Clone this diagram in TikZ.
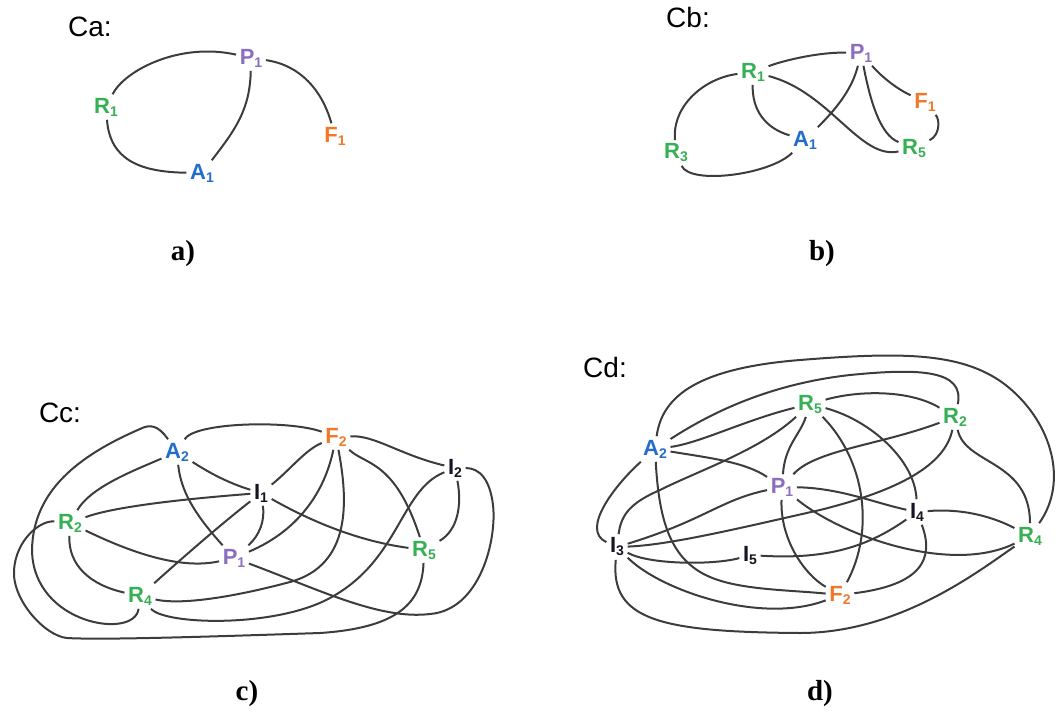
\documentclass[tikz,border=0pt]{standalone}
\usepackage{fontspec}
\setmainfont{Liberation Serif}
\newfontfamily\labsans{Liberation Sans}
\definecolor{linec}{RGB}{60,60,60}
\definecolor{rgreen}{RGB}{55,175,85}
\definecolor{ppurple}{RGB}{140,110,190}
\definecolor{ablue}{RGB}{35,110,200}
\definecolor{forange}{RGB}{240,120,40}
\definecolor{iblack}{RGB}{20,20,35}
\newcommand\nd[2]{#1\raisebox{-3pt}{\fontsize{14}{14}\selectfont #2}}
\tikzset{
  edge/.style={draw=linec, line width=2pt},
  lab/.style={font=\labsans\bfseries\fontsize{22}{22}\selectfont, inner sep=3.5pt},
  rn/.style={lab, text=rgreen},
  pn/.style={lab, text=ppurple},
  an/.style={lab, text=ablue},
  fn/.style={lab, text=forange},
  inn/.style={lab, text=iblack},
  title/.style={font=\labsans\fontsize{28}{28}\selectfont, inner sep=0pt},
  panelcap/.style={font=\bfseries\fontsize{29}{29}\selectfont, inner sep=0pt}
}
\begin{document}
\begin{tikzpicture}[x=1pt,y=-1pt]
\useasboundingbox (0,0) rectangle (1059,717);
% ---------------- panel a
\node[title] (ta) at (90,27) {Ca:};
\node[pn] (aP1) at (251,58) {\nd{P}{1}};
\node[rn] (aR1) at (106,107) {\nd{R}{1}};
\node[fn] (aF1) at (335,136) {\nd{F}{1}};
\node[an] (aA1) at (202,173) {\nd{A}{1}};
\draw[edge] (aR1) .. controls (125,70) and (180,42) .. (aP1);
\draw[edge] (aP1) .. controls (250,110) and (235,130) .. (aA1);
\draw[edge] (aP1) .. controls (300,65) and (322,90) .. (aF1);
\draw[edge] (aR1) .. controls (110,160) and (140,172) .. (aA1);
\node[panelcap] (la) at (183,254) {a)};
% ---------------- panel b
\node[title] (tb) at (688,17) {Cb:};
\node[pn] (bP1) at (861,53) {\nd{P}{1}};
\node[rn] (bR1) at (753,72) {\nd{R}{1}};
\node[fn] (bF1) at (925,102) {\nd{F}{1}};
\node[rn] (bR5) at (914,148) {\nd{R}{5}};
\node[an] (bA1) at (805,140) {\nd{A}{1}};
\node[rn] (bR3) at (676,153) {\nd{R}{3}};
\draw[edge] (bR1) .. controls (785,60) and (820,52) .. (bP1);
\draw[edge] (bR1) .. controls (705,78) and (672,105) .. (bR3);
\draw[edge] (bR3) .. controls (690,185) and (770,175) .. (bA1);
\draw[edge] (bR1) .. controls (752,110) and (765,128) .. (bA1);
\draw[edge] (bR1) .. controls (830,92) and (860,160) .. (bR5);
\draw[edge] (bP1) .. controls (852,90) and (835,110) .. (bA1);
\draw[edge] (bP1) .. controls (870,100) and (880,135) .. (bR5);
\draw[edge] (bP1) .. controls (880,75) and (895,88) .. (bF1);
\draw[edge] (bF1) .. controls (940,120) and (940,135) .. (bR5);
\node[panelcap] (lb) at (822,254) {b)};
% ---------------- panel c
\node[title] (tc) at (60,413) {Cc:};
\node[an] (cA2) at (177,452) {\nd{A}{2}};
\node[fn] (cF2) at (336,437) {\nd{F}{2}};
\node[inn] (cI2) at (455,468) {\nd{I}{2}};
\node[inn] (cI1) at (261,493) {\nd{I}{1}};
\node[rn] (cR2) at (70,523) {\nd{R}{2}};
\node[rn] (cR5) at (424,550) {\nd{R}{5}};
\node[pn] (cP1) at (234,558) {\nd{P}{1}};
\node[rn] (cR4) at (140,596) {\nd{R}{4}};
\draw[edge] (cA2) .. controls (158,425) and (150,424) .. (140,429) .. controls (80,455) and (33,490) .. (32,550) .. controls (33,625) and (135,640) .. (cR4);
\draw[edge] (cA2) .. controls (195,422) and (290,420) .. (cF2);
\draw[edge] (cA2) .. controls (130,472) and (90,488) .. (cR2);
\draw[edge] (cA2) .. controls (205,470) and (225,482) .. (cI1);
\draw[edge] (cA2) .. controls (181,495) and (200,520) .. (cP1);
\draw[edge] (cF2) .. controls (375,435) and (400,455) .. (cI2);
\draw[edge] (cF2) .. controls (305,450) and (290,470) .. (cI1);
\draw[edge] (cF2) .. controls (325,490) and (300,530) .. (cP1);
\draw[edge] (cF2) .. controls (348,500) and (352,565) .. (290,582) .. controls (230,598) and (180,605) .. (cR4);
\draw[edge] (cF2) .. controls (365,465) and (395,460) .. (cR5);
\draw[edge] (cI2) .. controls (400,490) and (400,560) .. (330,598) .. controls (275,628) and (165,625) .. (cR4);
\draw[edge] (cI2) .. controls (462,505) and (458,530) .. (cR5);
\draw[edge] (cP1) .. controls (320,590) and (380,620) .. (430,614) .. controls (480,610) and (497,540) .. (493,505) .. controls (490,480) and (480,468) .. (cI2);
\draw[edge] (cR5) .. controls (422,605) and (395,628) .. (320,633) .. controls (200,637) and (100,640) .. (67,638) .. controls (45,636) and (12,600) .. (14,570) .. controls (16,540) and (40,520) .. (cR2);
\draw[edge] (cI1) .. controls (300,515) and (350,540) .. (cR5);
\draw[edge] (cI1) .. controls (170,500) and (110,508) .. (cR2);
\draw[edge] (cI1) .. controls (220,525) and (180,560) .. (cR4);
\draw[edge] (cI1) .. controls (265,520) and (260,535) .. (cP1);
\draw[edge] (cR2) .. controls (130,552) and (180,570) .. (cP1);
\draw[edge] (cR2) .. controls (68,565) and (90,585) .. (cR4);
\node[panelcap] (lc) at (247,694) {c)};
% ---------------- panel d
\node[title] (td) at (605,367) {Cd:};
\node[rn] (dR5) at (810,404) {\nd{R}{5}};
\node[rn] (dR2) at (955,417) {\nd{R}{2}};
\node[an] (dA2) at (655,449) {\nd{A}{2}};
\node[pn] (dP1) at (782,487) {\nd{P}{1}};
\node[inn] (dI4) at (917,512) {\nd{I}{4}};
\node[rn] (dR4) at (1030,536) {\nd{R}{4}};
\node[inn] (dI3) at (617,547) {\nd{I}{3}};
\node[inn] (dI5) at (750,555) {\nd{I}{5}};
\node[fn] (dF2) at (840,595) {\nd{F}{2}};
\draw[edge] (dA2) .. controls (662,395) and (700,368) .. (800,360) .. controls (900,352) and (960,352) .. (1003,383) .. controls (1050,418) and (1070,480) .. (dR4);
\draw[edge] (dA2) .. controls (700,420) and (760,385) .. (850,375) .. controls (920,368) and (965,370) .. (dR2);
\draw[edge] (dA2) .. controls (700,443) and (745,420) .. (dR5);
\draw[edge] (dA2) .. controls (710,458) and (745,462) .. (dP1);
\draw[edge] (dA2) .. controls (615,485) and (580,530) .. (dI3);
\draw[edge] (dA2) .. controls (659,520) and (670,560) .. (710,577) .. controls (740,590) and (790,590) .. (dF2);
\draw[edge] (dR5) .. controls (860,390) and (910,390) .. (dR2);
\draw[edge] (dR5) .. controls (760,450) and (700,470) .. (660,490) .. controls (630,503) and (621,515) .. (dI3);
\draw[edge] (dR5) .. controls (800,435) and (785,445) .. (dP1);
\draw[edge] (dR5) .. controls (865,460) and (875,530) .. (dF2);
\draw[edge] (dR5) .. controls (870,420) and (915,460) .. (dI4);
\draw[edge] (dR2) .. controls (880,445) and (815,450) .. (dP1);
\draw[edge] (dR2) .. controls (945,465) and (900,490) .. (820,510) .. controls (740,528) and (670,545) .. (dI3);
\draw[edge] (dR2) .. controls (965,465) and (1030,460) .. (dR4);
\draw[edge] (dP1) .. controls (720,500) and (705,520) .. (dI3);
\draw[edge] (dP1) .. controls (840,488) and (875,503) .. (dI4);
\draw[edge] (dP1) .. controls (840,535) and (950,575) .. (dR4);
\draw[edge] (dP1) .. controls (780,540) and (805,575) .. (dF2);
\draw[edge] (dI4) .. controls (965,508) and (995,518) .. (dR4);
\draw[edge] (dI4) .. controls (935,560) and (920,585) .. (dF2);
\draw[edge] (dI5) .. controls (830,560) and (870,545) .. (dI4);
\draw[edge] (dI3) .. controls (650,565) and (715,565) .. (dI5);
\draw[edge] (dI3) .. controls (660,590) and (760,625) .. (dF2);
\draw[edge] (dI3) .. controls (610,620) and (660,632) .. (800,633) .. controls (900,633) and (980,570) .. (dR4);
\node[panelcap] (ld) at (820,694) {d)};
\end{tikzpicture}
\end{document}
